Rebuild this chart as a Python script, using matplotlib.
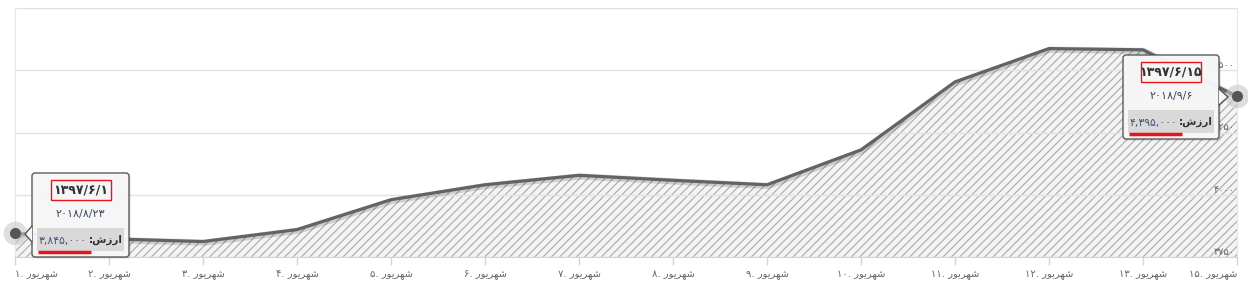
import numpy as np
import matplotlib
matplotlib.use("Agg")
import matplotlib.pyplot as plt
import matplotlib.patheffects as pe
from matplotlib.patches import Rectangle, FancyBboxPatch, Polygon

# data: daily price (thousand) during Shahrivar 1397
days = [1, 2, 3, 4, 5, 6, 7, 8, 9, 10, 11, 12, 13, 15]
values = [3845, 3823, 3812, 3860, 3980, 4040, 4078, 4058, 4040, 4180, 4453, 4587, 4582, 4395]
month_name = "شهریور"
y_ticks = [3750, 4000, 4250, 4500, 4750]
hover_idx = [0, 13]
gregorian = ["2018/8/23", "2018/9/6"]
value_word = "ارزش:"

FA = str.maketrans("0123456789", "۰۱۲۳۴۵۶۷۸۹")

# presentation forms: (isolated, final, initial, medial)
FORMS = {
    "ش": ("\ufeb5", "\ufeb6", "\ufeb7", "\ufeb8"),
    "ه": ("\ufee9", "\ufeea", "\ufeeb", "\ufeec"),
    "ی": ("\ufbfc", "\ufbfd", "\ufbfe", "\ufbff"),
    "ر": ("\ufead", "\ufeae"),
    "ز": ("\ufeaf", "\ufeb0"),
    "و": ("\ufeed", "\ufeee"),
    "ا": ("\ufe8d", "\ufe8e"),
}


def fa(s):
    return str(s).translate(FA)


def shape(word):
    # join letters by hand and reverse, matplotlib has no rtl layout
    out = []
    for i, ch in enumerate(word):
        if ch not in FORMS:
            out.append(ch)
            continue
        prev = word[i - 1] if i > 0 else None
        nxt = word[i + 1] if i + 1 < len(word) else None
        p = prev in FORMS and len(FORMS[prev]) == 4
        n = len(FORMS[ch]) == 4 and nxt in FORMS
        f = FORMS[ch]
        if p and n:
            out.append(f[3])
        elif p:
            out.append(f[1])
        elif n:
            out.append(f[2])
        else:
            out.append(f[0])
    return "".join(out[::-1])


plt.rcParams["font.family"] = ["DejaVu Sans"]
plt.rcParams["hatch.linewidth"] = 0.8

W, H = 1248, 293
fig = plt.figure(figsize=(W / 100, H / 100), dpi=100)
ax = fig.add_axes([15 / W, (H - 257) / H, (1237 - 15) / W, (257 - 8) / H])
ax.set_axisbelow(False)

x = np.arange(len(days))
ax.fill_between(x, values, y_ticks[0], facecolor="#f4f4f4", edgecolor="#ababab",
                linewidth=0, hatch="////", zorder=2)
ax.plot(x, values, color="#636363", lw=2.3, zorder=3, solid_joinstyle="round",
        path_effects=[pe.SimpleLineShadow(offset=(0.8, -0.8), shadow_color="k",
                                          alpha=0.15, linewidth=4.5), pe.Normal()])
for i in hover_idx:
    ax.plot(x[i], values[i], "o", ms=17, color="#c8c8c8", alpha=0.6, mew=0,
            clip_on=False, zorder=4)
    ax.plot(x[i], values[i], "o", ms=8, color="#555555", mew=0, clip_on=False, zorder=5)

ax.set_xlim(x[0], x[-1])
ax.set_ylim(y_ticks[0], y_ticks[-1])
ax.set_xticks(x)
ax.set_xticklabels([fa(d) + ". " + shape(month_name) for d in days],
                   fontsize=7.2, color="#666666")
lbls = ax.get_xticklabels()
lbls[0].set_ha("left")
lbls[-1].set_ha("right")
ax.tick_params(axis="x", length=6, color="#ccd6eb", width=1, pad=3)

ax.set_yticks(y_ticks)
ax.set_yticklabels([fa(v) for v in y_ticks[:-1]] + [""], fontsize=7, color="#666666")
ax.yaxis.tick_right()
ax.tick_params(axis="y", length=0, pad=-2)
for t in ax.get_yticklabels():
    t.set_ha("right")
    t.set_va("bottom")
ax.grid(axis="y", color="#e2e2e2", lw=1)
for side in ["top", "left", "right"]:
    ax.spines[side].set_color("#e6e6e6")
ax.spines["bottom"].set_color("#ccd6eb")

# tooltip overlay in pixel coords
ov = fig.add_axes([0, 0, 1, 1], zorder=10)
ov.set_xlim(0, W)
ov.set_ylim(H, 0)
ov.axis("off")
ov.patch.set_visible(False)


def tooltip(bx, by, bw, bh, tip, idx, greg, right_side):
    cx = bx + bw / 2
    ov.add_patch(FancyBboxPatch((bx + 2, by + 2), bw, bh, boxstyle="round,pad=0,rounding_size=3",
                                fc="k", ec="none", alpha=0.08))
    ov.add_patch(FancyBboxPatch((bx, by), bw, bh, boxstyle="round,pad=0,rounding_size=3",
                                fc="#f7f7f7", ec="#555555", lw=1, alpha=0.97))
    tx, ty = tip
    ex = bx + bw if right_side else bx
    ov.add_patch(Polygon([(ex, ty - 8), (tx, ty), (ex, ty + 8)], closed=True,
                         fc="#f7f7f7", ec="none"))
    ov.plot([ex, tx, ex], [ty - 8, ty, ty + 8], color="#555555", lw=1)
    jal = fa("1397/6/" + str(days[idx]))
    ov.text(cx, by + 17, jal, ha="center", va="center", fontsize=9, fontweight="bold",
            color="#333333")
    ov.add_patch(Rectangle((cx - 30, by + 7), 60, 20, fill=False, ec="#e8141c", lw=1))
    ov.text(cx, by + 41, fa(greg), ha="center", va="center", fontsize=8, color="#3a4a5e")
    ov.add_patch(Rectangle((bx + 5, by + 55), bw - 10, 23, fc="#d9d9d9", ec="none"))
    ov.text(bx + bw - 6, by + 67, shape(value_word), ha="right", va="center", fontsize=7.5,
            fontweight="bold", color="#333333")
    ov.text(bx + 7, by + 68, fa(f"{values[idx] * 1000:,}"), ha="left", va="center",
            fontsize=7.8, color="#44557a")
    ov.plot([bx + 6, bx + 59], [by + 79, by + 79], color="#e8141c", lw=2.5,
            solid_capstyle="butt")


tooltip(32, 173, 97, 84, (25, 234), hover_idx[0], gregorian[0], False)
tooltip(1123, 55, 96, 84, (1228, 97), hover_idx[1], gregorian[1], True)

fig.savefig("out.png", dpi=100)
